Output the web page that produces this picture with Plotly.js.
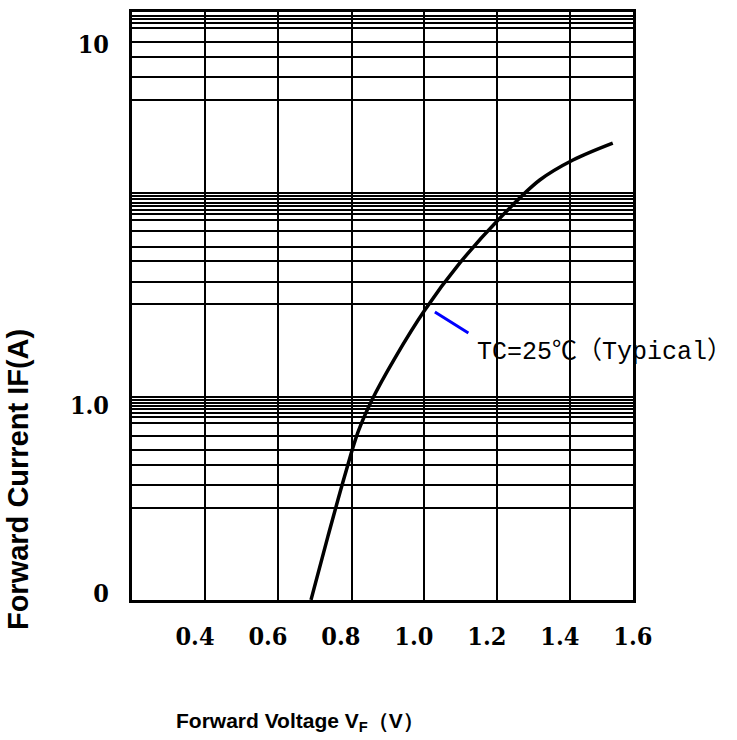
<!DOCTYPE html>
<html>
<head>
<meta charset="utf-8">
<script src="https://cdn.plot.ly/plotly-3.0.1.min.js"></script>
<style>html,body{margin:0;padding:0;background:#fff;}#chart{width:737px;height:740px;}</style>
</head>
<body>
<div id="chart"></div>
<script>
// Forward voltage (V) and forward current (A)
const voltage = [0.718, 0.764, 0.811, 0.847, 0.885, 0.948, 1.030, 1.126, 1.236, 1.345, 1.436, 1.545];
const current = [0.29, 0.433, 0.642, 0.845, 1.036, 1.353, 1.837, 2.479, 3.301, 4.205, 4.777, 5.322];

// Axis tick labels
const xTickVals = [0.4, 0.6, 0.8, 1.0, 1.2, 1.4, 1.6];
const xTickText = ['0.4', '0.6', '0.8', '1.0', '1.2', '1.4', '1.6'];
const yTickVals = [0.303, 1.0, 10];
const yTickText = ['0', '1.0', '10'];

// Grid line positions (axis values) as drawn on the sheet
const xGridVals = [0.4274, 0.6274, 0.8301, 1.0274, 1.2274, 1.4274];
const yGridVals = [11.95, 11.69, 11.43, 11.04, 10.10, 9.18, 8.08, 6.98,
  3.87, 3.80, 3.73, 3.64, 3.56, 3.47, 3.39, 3.26, 3.03, 2.75, 2.51, 2.20, 1.915,
  1.059, 1.039, 1.019, 0.997, 0.975, 0.953, 0.929, 0.897, 0.826, 0.753, 0.684, 0.603, 0.521];

// Callout
const calloutText = 'TC=25℃（Typical）';
const calloutPointV = 1.0575, calloutPointI = 1.814;
const calloutTailV = 1.1534, calloutTailI = 1.577;
const calloutLabelV = 1.1671, calloutLabelI = 1.407;

const xTitle = 'Forward Voltage V<sub>F</sub>（V）';
const yTitle = 'Forward Current IF(A)';

const trace = {
  x: voltage, y: current, type: 'scatter', mode: 'lines',
  line: {color: '#000', width: 3.5, shape: 'spline', smoothing: 1.0},
  hoverinfo: 'skip', showlegend: false
};

const tickFont = {family: 'DejaVu Serif Condensed, DejaVu Serif, serif', size: 25, color: '#000', weight: 'bold'};

const layout = {
  width: 737, height: 740,
  margin: {l: 132, r: 104, t: 12, b: 140},
  paper_bgcolor: '#fff', plot_bgcolor: '#fff',
  showlegend: false,
  xaxis: {
    range: [0.2274, 1.6005], type: 'linear',
    tickmode: 'array', tickvals: xTickVals, ticktext: xTickText,
    showgrid: false, zeroline: false, ticks: '',
    ticklabelstandoff: 12,
    tickfont: tickFont,
    showline: true, mirror: true, linecolor: '#000', linewidth: 3,
    minor: {tickmode: 'array', tickvals: xGridVals, showgrid: true, gridcolor: '#000', gridwidth: 2.4, ticks: ''}
  },
  yaxis: {
    type: 'log', range: [-0.538, 1.0885],
    tickmode: 'array', tickvals: yTickVals, ticktext: yTickText,
    showgrid: false, zeroline: false, ticks: '',
    ticklabelstandoff: 15,
    tickfont: tickFont,
    showline: true, mirror: true, linecolor: '#000', linewidth: 3,
    minor: {tickmode: 'array', tickvals: yGridVals, showgrid: true, gridcolor: '#000', gridwidth: 2.0, ticks: ''}
  },
  annotations: [
    {x: calloutPointV, y: Math.log10(calloutPointI), xref: 'x', yref: 'y',
     ax: calloutTailV, ay: Math.log10(calloutTailI), axref: 'x', ayref: 'y',
     text: '', showarrow: true, arrowhead: 0, arrowwidth: 3, arrowcolor: '#0000ff', standoff: 0, startstandoff: 0},
    {x: calloutLabelV, y: Math.log10(calloutLabelI), xref: 'x', yref: 'y',
     text: calloutText, showarrow: false, xanchor: 'left', yanchor: 'middle',
     font: {family: 'Liberation Mono, Noto Sans CJK SC, monospace', size: 25, color: '#000'}},
    {x: 0.335, y: -0.208, xref: 'paper', yref: 'paper', text: xTitle, showarrow: false,
     xanchor: 'center', yanchor: 'middle',
     font: {family: 'Liberation Sans, Arial, sans-serif', size: 21, color: '#000', weight: 'bold'}},
    {x: -0.2275, y: 0.204, xref: 'paper', yref: 'paper', text: yTitle, showarrow: false,
     textangle: -90, xanchor: 'center', yanchor: 'middle',
     font: {family: 'Liberation Sans, Arial, sans-serif', size: 29, color: '#000', weight: 'bold'}}
  ]
};

Plotly.newPlot('chart', [trace], layout, {displayModeBar: false, staticPlot: true});
</script>
</body>
</html>
